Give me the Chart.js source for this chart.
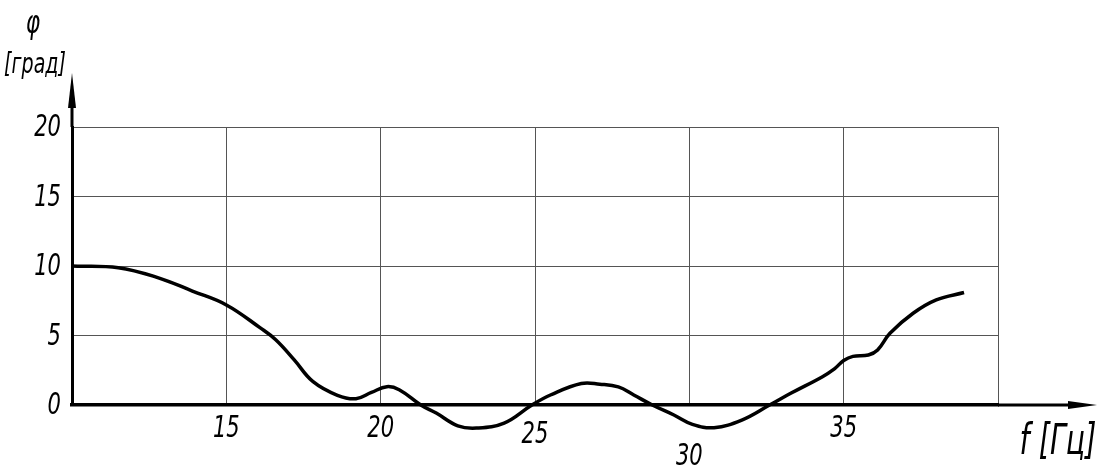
<!DOCTYPE html>
<html>
<head>
<meta charset="utf-8">
<script src="https://cdn.jsdelivr.net/npm/chart.js@4/dist/chart.umd.min.js"></script>
<style>
  html, body { margin: 0; padding: 0; background: #fff; }
  #wrap { width: 1101px; height: 470px; }
</style>
</head>
<body>
<div id="wrap"><canvas id="myChart"></canvas></div>
<script>
// Data
const freq  = [10, 11.5, 12.8, 13.9, 15, 16.1, 16.6, 17.2, 17.8, 18.6, 19.2, 19.7, 20.2, 20.6, 21.3, 21.8, 22.5, 23.1, 24.0, 24.9, 25.5, 26.5, 27.1, 27.7, 28.2, 28.8, 29.5, 30.1, 30.8, 31.7, 32.6, 33.3, 34.3, 34.7, 35.0, 35.3, 35.8, 36.1, 36.5, 37.25, 38.0, 38.9];
const phase = [10.0, 9.88, 9.15, 8.2, 7.2, 5.55, 4.7, 3.25, 1.7, 0.7, 0.45, 0.9, 1.32, 1.1, 0.0, -0.58, -1.5, -1.66, -1.3, 0.0, 0.72, 1.55, 1.5, 1.3, 0.72, 0.0, -0.72, -1.39, -1.63, -1.08, 0.0, 0.86, 2.02, 2.6, 3.2, 3.5, 3.6, 3.96, 5.16, 6.6, 7.56, 8.09];
const xTicks = [15, 20, 25, 30, 35];
const yTicks = [0, 5, 10, 15, 20];

const FONT = '"DejaVu Sans", sans-serif';

// narrow italic text, like the drafting font in the drawing
function narrowText(c, str, x, y, size, align) {
  c.save();
  c.translate(x, y);
  c.scale(0.68, 1);
  c.font = 'italic ' + size + 'px ' + FONT;
  c.textAlign = align;
  c.textBaseline = 'middle';
  c.fillText(str, 0, 0);
  c.restore();
}

document.addEventListener("DOMContentLoaded", function () {
  const ctx = document.getElementById('myChart').getContext('2d');

  const drawing = {
    id: 'drawing',
    afterDraw(chart) {
      const c = chart.ctx;
      const a = chart.chartArea;
      const xs = chart.scales.x;
      const ys = chart.scales.y;
      c.save();
      c.fillStyle = '#000';
      c.strokeStyle = '#000';
      c.lineWidth = 3;
      // x axis extension + arrow
      c.beginPath();
      c.moveTo(a.right, a.bottom);
      c.lineTo(1072, a.bottom);
      c.stroke();
      c.beginPath();
      c.moveTo(1097, a.bottom);
      c.lineTo(1068, a.bottom - 4);
      c.lineTo(1068, a.bottom + 4);
      c.closePath();
      c.fill();
      // y axis extension + arrow
      c.beginPath();
      c.moveTo(a.left, a.top);
      c.lineTo(a.left, 104);
      c.stroke();
      c.beginPath();
      c.moveTo(a.left, 73);
      c.lineTo(a.left - 4, 108);
      c.lineTo(a.left + 4, 108);
      c.closePath();
      c.fill();

      // tick labels
      const drop = { 25: 6, 30: 28 };
      xTicks.forEach(v => {
        narrowText(c, String(v), xs.getPixelForValue(v), 429 + (drop[v] || 0), 31, 'center');
      });
      yTicks.forEach(v => {
        narrowText(c, String(v), 61, ys.getPixelForValue(v) + 1, 31, 'right');
      });

      // axis captions
      narrowText(c, '\u03C6', 33, 25, 32, 'center');
      narrowText(c, '[град]', 35, 66, 28, 'center');
      narrowText(c, 'f [Гц]', 1058, 443, 42, 'center');
      c.restore();
    }
  };

  new Chart(ctx, {
    type: 'line',
    data: {
      datasets: [{
        label: 'phi',
        data: freq.map((f, i) => ({ x: f, y: phase[i] })),
        borderColor: '#000',
        borderWidth: 3.5,
        pointRadius: 0,
        fill: false,
        clip: false,
        tension: 0.4
      }]
    },
    options: {
      responsive: true,
      maintainAspectRatio: false,
      animation: false,
      layout: { padding: { top: 127, right: 103, left: 0, bottom: 0 } },
      plugins: {
        legend: { display: false },
        tooltip: { enabled: false }
      },
      scales: {
        x: {
          type: 'linear',
          min: 10,
          max: 40,
          afterBuildTicks: s => { s.ticks = [10, 15, 20, 25, 30, 35, 40].map(v => ({ value: v })); },
          afterFit: s => { s.height = 65; },
          ticks: { display: false },
          grid: { color: '#555', lineWidth: 1, drawTicks: false },
          border: { color: '#000', width: 3.5 }
        },
        y: {
          min: 0,
          max: 20,
          afterBuildTicks: s => { s.ticks = yTicks.map(v => ({ value: v })); },
          afterFit: s => { s.width = 72; },
          ticks: { display: false },
          grid: { color: '#555', lineWidth: 1, drawTicks: false },
          border: { color: '#000', width: 3 }
        }
      }
    },
    plugins: [drawing]
  });
});
</script>
</body>
</html>
